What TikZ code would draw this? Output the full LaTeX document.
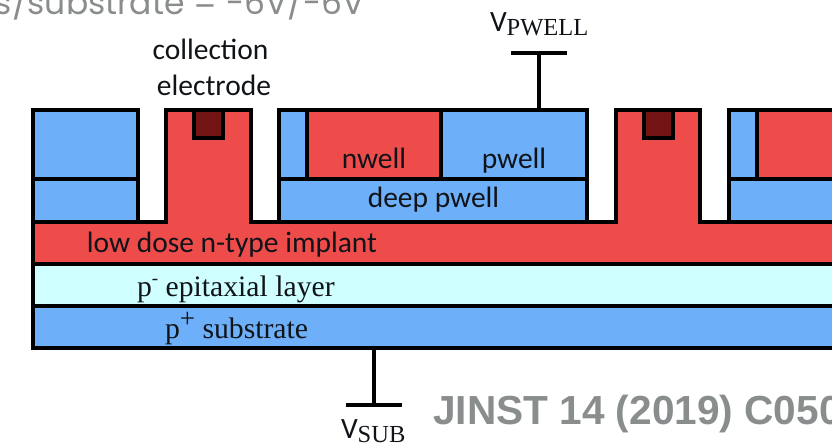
\documentclass[tikz,border=0pt]{standalone}
\usepackage{fontspec}
\setmainfont{Carlito}
\newfontfamily\serifface{Liberation Serif}
\newfontfamily\headface{Poppins}
\newfontfamily\citeface{Liberation Sans}[BoldFont={Liberation Sans Bold}]
\definecolor{siblue}{HTML}{6DAFF8}
\definecolor{sired}{HTML}{EE4B4B}
\definecolor{sidark}{HTML}{731515}
\definecolor{sicyan}{HTML}{CFFFFF}
\definecolor{sigrey}{HTML}{8A8D8D}
\definecolor{siink}{HTML}{101418}
\tikzset{
  layer/.style={draw=black,line width=3.2pt,rectangle,inner sep=0pt,outer sep=0pt,anchor=north west},
  lab/.style={inner sep=0pt,outer sep=0pt,text=siink,font=\fontsize{29.5}{30}\selectfont},
  serlab/.style={inner sep=0pt,outer sep=0pt,text=siink,font=\serifface\fontsize{29.7}{30}\selectfont},
  wire/.style={draw=black,line width=3.4pt},
}
\newcommand{\blockat}[5]{\node[layer,fill=#5,minimum width=#3pt,minimum height=#4pt] (#1) at (#2) {};}
\begin{document}
\begin{tikzpicture}[x=1pt,y=-1pt]
\useasboundingbox (0,0) rectangle (832,445);
\clip (0,0) rectangle (832,445);
% substrate stack
\blockat{sub}{33,306}{820}{42}{siblue}
\blockat{epi}{33,264}{820}{42}{sicyan}
% implant with its two collection wells
\draw[fill=sired,draw=black,line width=3.2pt,line join=miter]
  (33,264) -- (33,222) -- (166,222) -- (166,110) -- (251,110) -- (251,222)
  -- (616,222) -- (616,110) -- (700,110) -- (700,222) -- (850,222) -- (850,264) -- cycle;
% electrodes
\blockat{elecA}{194,110}{29}{28}{sidark}
\blockat{elecB}{644,110}{29}{28}{sidark}
% left block
\blockat{leftup}{33,110}{105}{69}{siblue}
\blockat{leftlow}{33,179}{105}{43}{siblue}
% middle block
\blockat{deep}{279,179}{308}{43}{siblue}
\blockat{guardA}{279,110}{28}{69}{siblue}
\blockat{nwell}{307,110}{134}{69}{sired}
\blockat{pwell}{441,110}{146}{69}{siblue}
% right block
\blockat{deepB}{729,179}{130}{43}{siblue}
\blockat{guardB}{729,110}{28}{69}{siblue}
\blockat{nwellB}{757,110}{100}{69}{sired}
% terminals
\coordinate (pwtap) at (539,110);
\coordinate (pwtop) at (539,53);
\coordinate (pwbarL) at (511,53);
\coordinate (pwbarR) at (567,53);
\coordinate (subtap) at (374,348);
\coordinate (subend) at (374,405);
\coordinate (subbarL) at (346,405);
\coordinate (subbarR) at (402,405);
\draw[wire] (pwtap) -- (pwtop);
\draw[wire] (pwbarL) -- (pwbarR);
\draw[wire] (subtap) -- (subend);
\draw[wire] (subbarL) -- (subbarR);
% labels
\node[lab,anchor=base] (tcoll) at (210.5,59) {collection};
\node[lab,anchor=base] (telec) at (214,95) {electrode};
\node[lab,anchor=base] (tn) at (374,168) {nwell};
\node[lab,anchor=base] (tp) at (514,168) {pwell};
\node[lab,anchor=base] (tdeep) at (433.5,207) {deep pwell};
\node[lab,anchor=base] (tlow) at (232,252) {low dose n-type implant};
\node[serlab,anchor=base west] (tepi) at (137,296) {p\raisebox{0.38em}{\fontsize{19}{19}\selectfont -} epitaxial layer};
\node[serlab,anchor=base west] (tsub) at (165,338.5) {p\raisebox{0.36em}{\fontsize{27}{27}\selectfont +} substrate};
\node[lab,anchor=base west] (tvp) at (490,31) {V\serifface\fontsize{24.5}{24.5}\selectfont\raisebox{-0.2em}{PWELL}};
\node[lab,anchor=base west] (tvs) at (341,438) {V\serifface\fontsize{24.5}{24.5}\selectfont\raisebox{-0.2em}{SUB}};
\node[inner sep=0pt,anchor=base east,text=sigrey,font=\headface\fontsize{33}{34}\selectfont] (thead) at (365,14.5) {ls/substrate = -6V/-6V};
\node[inner sep=0pt,anchor=base west,text=sigrey,font=\citeface\bfseries\fontsize{40.6}{41}\selectfont] (tcite) at (433,424) {JINST 14 (2019) C050};
\end{tikzpicture}
\end{document}
